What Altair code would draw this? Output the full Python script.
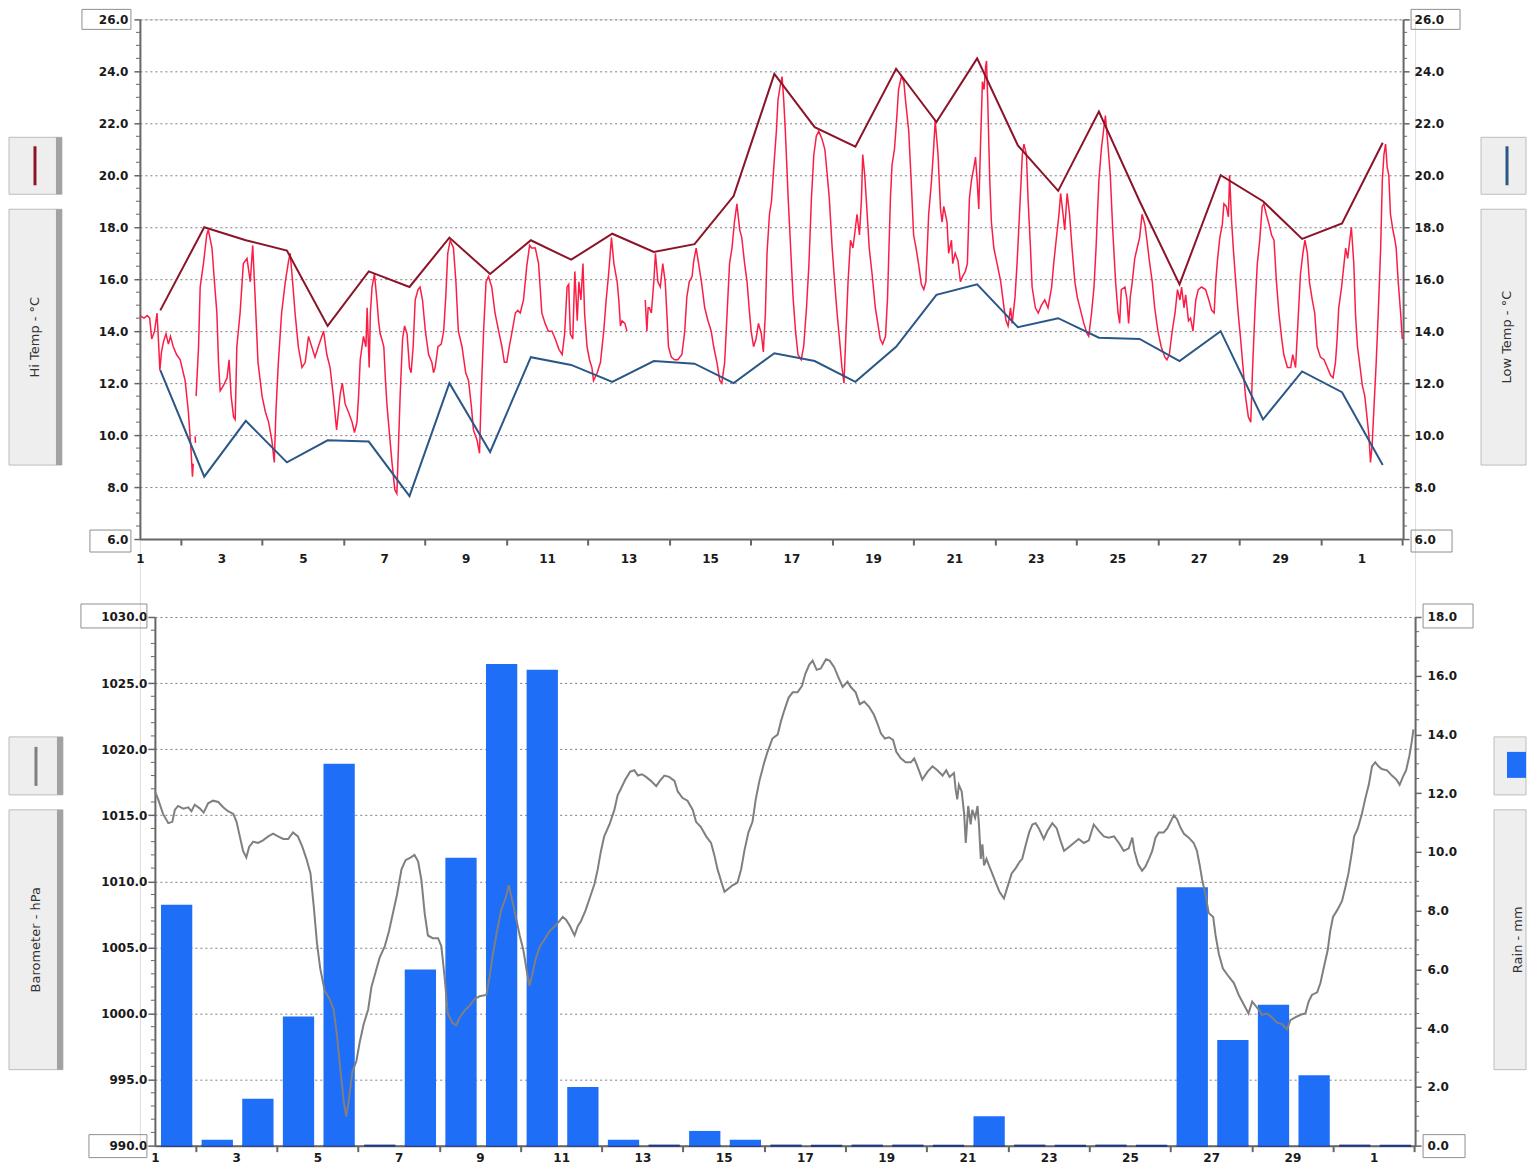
import altair as alt
import pandas as pd

# ---------------- data (t = days since the 1st of the month, 00:00) ----------------
T_DOMAIN = [0, 31.02]

# daily extremes, plotted at the time of day they were logged
hl_t = [0.5, 1.58, 2.6, 3.61, 4.61, 5.62, 6.62, 7.6, 8.6, 9.6, 10.59, 11.6, 12.62, 13.62, 14.58,
        15.58, 16.57, 17.57, 18.57, 19.56, 20.56, 21.56, 22.55, 23.55, 24.55, 25.53, 26.54,
        27.58, 28.54, 29.52, 30.52]
hi_temp = [14.8, 18.0, 17.5, 17.1, 14.2, 16.3, 15.7, 17.6, 16.2, 17.5, 16.75, 17.75, 17.05, 17.35, 19.2,
           23.9, 21.85, 21.1, 24.1, 22.05, 24.5, 21.15, 19.4, 22.45, 19.0, 15.8, 20.0, 19.0, 17.55, 18.15, 21.25]
low_temp = [12.5, 8.4, 10.55, 8.95, 9.8, 9.75, 7.65, 12.0, 9.35, 13.0, 12.7, 12.05, 12.85, 12.75, 12.0,
            13.15, 12.85, 12.05, 13.4, 15.4, 15.8, 14.15, 14.5, 13.75, 13.7, 12.85, 14.0, 10.6, 12.45, 11.65, 8.85]

# logged temperature trace (t, °C), split where the logger has gaps
temp_seg_a = [(0.00, 14.6), (0.10, 14.5), (0.18, 14.6), (0.24, 14.5), (0.29, 13.7), (0.36, 14.0), (0.42, 14.7),
              (0.46, 13.5), (0.49, 12.5), (0.53, 13.2), (0.58, 13.6), (0.64, 13.9), (0.70, 13.5), (0.75, 13.8),
              (0.82, 13.4), (0.90, 13.1), (0.99, 12.9), (1.11, 12.1), (1.19, 10.9), (1.26, 9.3), (1.29, 8.4),
              (1.31, 8.9)]
temp_seg_b = [(1.355, 9.95), (1.365, 9.7)]
temp_seg_c = [(1.38, 11.5), (1.44, 13.4), (1.48, 15.7), (1.56, 16.6), (1.64, 17.7), (1.68, 17.9), (1.77, 17.2),
              (1.83, 15.9), (1.89, 14.7), (1.93, 12.8), (1.97, 11.7), (2.05, 11.9), (2.14, 12.2), (2.19, 12.9),
              (2.24, 11.5), (2.30, 10.7), (2.34, 10.6), (2.38, 13.4), (2.46, 14.7), (2.54, 16.6), (2.63, 16.8),
              (2.71, 15.9), (2.77, 17.3), (2.83, 15.3), (2.90, 12.8), (3.00, 11.5), (3.08, 10.9), (3.16, 10.5),
              (3.24, 9.8), (3.30, 8.95), (3.34, 10.9), (3.40, 12.8), (3.48, 14.7), (3.57, 15.9), (3.65, 16.7),
              (3.69, 17.0), (3.75, 15.9), (3.81, 14.7), (3.89, 13.4), (3.98, 12.6), (4.06, 12.8), (4.14, 13.8),
              (4.22, 13.4), (4.30, 13.0), (4.38, 13.4), (4.51, 14.0), (4.59, 13.1), (4.67, 12.6), (4.75, 11.5),
              (4.83, 10.2), (4.92, 11.6), (4.97, 12.0), (5.04, 11.2), (5.13, 10.85), (5.21, 10.5), (5.27, 10.1),
              (5.33, 10.5), (5.37, 11.5), (5.41, 12.9), (5.49, 13.8), (5.55, 13.4), (5.58, 14.9), (5.63, 12.6),
              (5.66, 14.7), (5.70, 15.7), (5.76, 16.2), (5.82, 15.2), (5.86, 14.4), (5.90, 13.9), (5.94, 13.7),
              (5.99, 13.4), (6.03, 12.1), (6.07, 11.1), (6.12, 10.2), (6.19, 8.95), (6.26, 7.9), (6.31, 7.75),
              (6.35, 9.6), (6.39, 11.5), (6.45, 13.7), (6.50, 14.2), (6.56, 13.9), (6.62, 12.6), (6.66, 12.4),
              (6.71, 13.4), (6.76, 15.2), (6.83, 15.6), (6.88, 15.7), (6.94, 15.2), (7.01, 14.0), (7.09, 13.1),
              (7.17, 12.8), (7.21, 12.4), (7.25, 12.6), (7.32, 13.4), (7.40, 13.5), (7.46, 14.0), (7.51, 15.3),
              (7.56, 17.0), (7.62, 17.5), (7.70, 17.2), (7.76, 15.9), (7.82, 14.0), (7.91, 13.4), (8.00, 12.4),
              (8.07, 12.1), (8.14, 11.1), (8.19, 10.2), (8.28, 9.8), (8.34, 9.3), (8.38, 11.5), (8.44, 14.0),
              (8.50, 15.9), (8.56, 16.1), (8.64, 15.7), (8.72, 14.7), (8.81, 14.0), (8.89, 13.4), (8.95, 12.8),
              (9.01, 12.8), (9.07, 13.4), (9.13, 13.9), (9.22, 14.7), (9.28, 14.8), (9.34, 14.7), (9.42, 15.2),
              (9.50, 16.5), (9.57, 17.3), (9.62, 17.2), (9.71, 17.2), (9.79, 16.6), (9.87, 14.7), (9.95, 14.3),
              (10.03, 14.0), (10.12, 14.0), (10.20, 13.7), (10.29, 13.3), (10.37, 13.1), (10.43, 13.9),
              (10.49, 15.7), (10.53, 15.8), (10.57, 13.9), (10.63, 13.7), (10.68, 16.3), (10.74, 14.4),
              (10.78, 15.9), (10.83, 15.2), (10.88, 16.6), (10.92, 14.7), (10.98, 13.4), (11.04, 12.9),
              (11.10, 12.6), (11.14, 12.1), (11.23, 12.4), (11.31, 12.8), (11.39, 14.0), (11.45, 15.2),
              (11.51, 16.2), (11.58, 17.6), (11.64, 16.6), (11.72, 15.9), (11.76, 15.2), (11.80, 14.2),
              (11.84, 14.4), (11.91, 14.3), (11.96, 14.0)]
temp_seg_d = [(12.41, 15.2), (12.45, 14.0), (12.48, 14.9), (12.51, 14.9), (12.56, 14.7), (12.62, 15.9),
              (12.66, 17.0), (12.72, 15.9), (12.78, 15.7), (12.84, 16.6), (12.90, 15.9), (12.94, 14.7),
              (12.98, 13.4), (13.05, 13.0), (13.13, 12.9), (13.21, 12.9), (13.31, 13.1), (13.38, 14.0),
              (13.43, 15.3), (13.49, 15.9), (13.56, 16.1), (13.60, 16.7), (13.66, 17.2), (13.72, 16.6),
              (13.79, 15.9), (13.87, 14.9), (13.95, 14.4), (14.03, 14.0), (14.09, 13.4), (14.17, 12.8),
              (14.24, 12.1), (14.29, 12.0), (14.36, 12.8), (14.42, 14.7), (14.48, 16.6), (14.54, 17.2),
              (14.60, 18.2), (14.66, 18.9), (14.73, 17.9), (14.78, 17.6), (14.85, 16.6), (14.91, 15.9),
              (14.96, 14.9), (15.01, 14.0), (15.07, 13.4), (15.13, 13.7), (15.19, 14.3), (15.26, 13.9),
              (15.31, 13.2), (15.36, 14.7), (15.40, 17.0), (15.46, 18.5), (15.51, 19.0), (15.57, 20.4),
              (15.63, 21.7), (15.67, 22.9), (15.73, 23.5), (15.77, 23.8), (15.81, 22.9), (15.85, 21.7),
              (15.92, 19.1), (15.98, 17.2), (16.04, 15.3), (16.10, 14.0), (16.16, 13.1), (16.24, 12.9),
              (16.30, 13.4), (16.37, 14.9), (16.43, 16.6), (16.49, 19.1), (16.55, 20.8), (16.61, 21.5),
              (16.67, 21.7), (16.75, 21.4), (16.82, 21.0), (16.88, 20.0), (16.93, 19.1), (17.00, 17.2),
              (17.06, 15.9), (17.12, 14.7), (17.18, 13.7), (17.24, 12.6), (17.29, 12.0), (17.34, 14.0),
              (17.39, 15.9), (17.45, 17.5), (17.51, 17.2), (17.55, 17.7), (17.61, 18.5), (17.67, 17.7),
              (17.72, 19.1), (17.75, 20.8), (17.80, 20.0), (17.86, 18.5), (17.91, 17.2), (17.98, 16.2),
              (18.06, 14.9), (18.13, 14.2), (18.18, 13.7), (18.24, 13.5), (18.31, 13.8), (18.36, 15.3),
              (18.43, 19.1), (18.47, 20.4), (18.53, 21.0), (18.59, 22.3), (18.63, 23.3), (18.70, 23.8),
              (18.76, 23.6), (18.80, 22.9), (18.88, 21.7), (18.94, 19.8), (19.00, 17.7), (19.06, 17.2),
              (19.12, 16.6), (19.19, 15.8), (19.25, 15.6), (19.30, 15.9), (19.37, 18.5), (19.44, 19.8),
              (19.49, 21.0), (19.53, 22.1), (19.60, 20.8), (19.66, 18.7), (19.70, 18.2), (19.74, 18.8),
              (19.78, 18.5), (19.82, 18.2), (19.86, 17.0), (19.93, 17.5), (19.96, 16.6), (20.02, 17.0),
              (20.09, 16.7), (20.15, 15.9), (20.20, 16.1), (20.27, 16.3), (20.32, 16.6), (20.37, 19.1),
              (20.42, 19.8), (20.48, 20.3), (20.52, 20.7), (20.56, 19.8), (20.60, 18.7), (20.64, 21.0),
              (20.69, 23.6), (20.73, 23.3), (20.77, 24.2), (20.79, 24.4), (20.82, 22.9), (20.87, 19.8),
              (20.91, 18.2), (20.97, 17.2), (21.05, 16.6), (21.14, 15.9), (21.22, 14.9), (21.27, 14.4),
              (21.32, 14.2), (21.38, 14.9), (21.42, 14.3), (21.49, 15.3), (21.54, 16.6), (21.60, 18.5),
              (21.67, 20.8), (21.71, 21.2), (21.77, 20.8), (21.81, 19.1), (21.87, 17.2), (21.91, 15.7),
              (21.99, 14.9), (22.06, 14.7), (22.14, 15.0), (22.22, 15.2), (22.30, 14.9), (22.39, 15.7),
              (22.44, 16.6), (22.50, 17.5), (22.57, 18.5), (22.61, 19.3), (22.67, 18.5), (22.71, 17.9),
              (22.77, 19.3), (22.83, 18.5), (22.89, 17.2), (22.96, 15.9), (23.02, 15.3), (23.10, 14.8),
              (23.18, 14.3), (23.26, 13.9), (23.30, 13.8), (23.37, 14.7), (23.43, 15.7), (23.48, 17.2),
              (23.55, 19.8), (23.61, 21.0), (23.67, 21.8), (23.71, 22.3), (23.78, 21.0), (23.83, 20.0),
              (23.89, 17.9), (23.96, 15.9), (24.02, 14.7), (24.06, 14.3), (24.10, 15.6), (24.19, 15.7),
              (24.24, 15.2), (24.28, 14.3), (24.32, 15.3), (24.37, 15.9), (24.43, 16.8), (24.49, 17.2),
              (24.55, 17.6), (24.61, 18.5), (24.68, 18.1), (24.73, 17.5), (24.79, 16.7), (24.86, 15.9),
              (24.92, 14.9), (25.00, 14.0), (25.08, 13.4), (25.17, 13.0), (25.22, 12.9), (25.28, 13.1),
              (25.35, 14.0), (25.42, 14.7), (25.48, 15.6), (25.54, 15.2), (25.58, 15.7), (25.64, 14.9),
              (25.68, 15.4), (25.75, 14.4), (25.80, 14.5), (25.86, 14.0), (25.93, 15.2), (25.99, 15.6),
              (26.07, 15.7), (26.17, 15.6), (26.25, 15.2), (26.32, 14.8), (26.38, 14.7), (26.42, 15.9),
              (26.46, 16.7), (26.52, 17.6), (26.58, 18.1), (26.62, 18.9), (26.68, 18.8), (26.73, 18.4),
              (26.76, 20.0), (26.81, 18.2), (26.85, 17.2), (26.91, 15.9), (26.97, 14.7), (27.03, 13.7),
              (27.09, 12.6), (27.15, 11.5), (27.22, 10.7), (27.28, 10.5), (27.32, 12.4), (27.38, 14.7),
              (27.44, 16.6), (27.50, 17.5), (27.56, 18.8), (27.60, 18.9), (27.66, 18.5), (27.73, 18.1),
              (27.79, 17.7), (27.85, 17.5), (27.91, 15.9), (27.97, 14.7), (28.04, 13.7), (28.09, 13.1),
              (28.18, 12.6), (28.26, 12.6), (28.31, 13.1), (28.38, 12.6), (28.45, 14.7), (28.50, 16.2),
              (28.56, 17.0), (28.61, 17.5), (28.67, 17.0), (28.72, 15.9), (28.79, 15.2), (28.85, 14.7),
              (28.91, 13.4), (28.99, 13.0), (29.08, 12.9), (29.16, 12.6), (29.24, 12.3), (29.30, 12.2),
              (29.36, 12.8), (29.40, 13.7), (29.44, 14.9), (29.51, 15.7), (29.57, 16.6), (29.61, 17.2),
              (29.66, 16.8), (29.71, 17.5), (29.75, 18.0), (29.81, 16.6), (29.85, 14.7), (29.90, 13.4),
              (29.95, 12.8), (30.02, 11.9), (30.08, 11.5), (30.14, 10.6), (30.18, 10.0), (30.22, 8.95),
              (30.26, 9.6), (30.30, 10.9), (30.36, 12.8), (30.41, 14.7), (30.47, 17.2), (30.51, 19.8),
              (30.55, 20.8), (30.59, 21.2), (30.63, 20.3), (30.67, 20.0), (30.71, 18.5), (30.77, 17.9),
              (30.82, 17.5), (30.85, 17.2), (30.90, 15.9), (30.96, 14.7), (31.00, 13.7)]

# barometer trace (t, hPa)
baro = [(0.00, 1016.8), (0.08, 1016.2), (0.20, 1015.1), (0.33, 1014.4), (0.43, 1014.5), (0.49, 1015.4),
        (0.57, 1015.7), (0.70, 1015.5), (0.82, 1015.6), (0.90, 1015.3), (0.98, 1015.8), (1.11, 1015.5),
        (1.20, 1015.2), (1.31, 1015.9), (1.43, 1016.1), (1.56, 1016.0), (1.68, 1015.6), (1.80, 1015.3),
        (1.93, 1015.1), (2.01, 1014.5), (2.09, 1013.4), (2.17, 1012.3), (2.25, 1011.8), (2.32, 1012.6),
        (2.42, 1013.0), (2.54, 1012.9), (2.66, 1013.1), (2.79, 1013.4), (2.91, 1013.6), (3.03, 1013.4),
        (3.16, 1013.2), (3.28, 1013.2), (3.40, 1013.7), (3.52, 1013.4), (3.63, 1012.6), (3.73, 1011.7),
        (3.83, 1010.6), (3.91, 1008.1), (3.99, 1005.3), (4.07, 1003.4), (4.18, 1001.7), (4.30, 1001.1),
        (4.40, 1000.3), (4.48, 998.4), (4.57, 995.6), (4.65, 993.3), (4.71, 992.2), (4.78, 993.6),
        (4.86, 995.6), (4.96, 996.4), (5.04, 997.8), (5.14, 999.2), (5.25, 1000.3), (5.33, 1002.0),
        (5.43, 1003.1), (5.53, 1004.2), (5.66, 1005.1), (5.76, 1006.2), (5.86, 1007.6), (5.96, 1009.0),
        (6.07, 1010.9), (6.17, 1011.6), (6.29, 1011.8), (6.39, 1012.0), (6.48, 1011.5), (6.56, 1010.1),
        (6.64, 1007.6), (6.72, 1005.9), (6.84, 1005.7), (6.97, 1005.7), (7.05, 1005.1), (7.13, 1002.8),
        (7.21, 1000.0), (7.32, 999.3), (7.42, 999.1), (7.50, 999.7), (7.62, 1000.2), (7.75, 1000.6),
        (7.87, 1001.1), (7.99, 1001.3), (8.16, 1001.4), (8.24, 1002.8), (8.32, 1004.5), (8.42, 1006.2),
        (8.52, 1007.8), (8.63, 1008.7), (8.71, 1009.7), (8.85, 1007.8), (8.98, 1005.9), (9.07, 1004.8),
        (9.16, 1003.1), (9.22, 1002.1), (9.30, 1003.1), (9.38, 1004.2), (9.48, 1005.1), (9.59, 1005.6),
        (9.71, 1006.2), (9.84, 1006.6), (9.96, 1007.0), (10.04, 1007.3), (10.12, 1007.1), (10.22, 1006.6),
        (10.33, 1005.9), (10.41, 1006.6), (10.49, 1007.0), (10.60, 1007.8), (10.70, 1008.7), (10.82, 1009.8),
        (10.90, 1010.9), (10.98, 1012.3), (11.06, 1013.4), (11.19, 1014.3), (11.31, 1015.4), (11.39, 1016.5),
        (11.47, 1017.0), (11.58, 1017.7), (11.70, 1018.3), (11.80, 1018.4), (11.89, 1018.0), (11.99, 1018.1),
        (12.09, 1017.9), (12.21, 1017.6), (12.34, 1017.2), (12.43, 1017.6), (12.54, 1018.0), (12.66, 1017.9),
        (12.79, 1017.6), (12.87, 1016.8), (12.99, 1016.3), (13.11, 1016.1), (13.24, 1015.4), (13.32, 1014.5),
        (13.44, 1014.1), (13.57, 1013.4), (13.69, 1012.9), (13.77, 1012.0), (13.85, 1010.9), (13.93, 1010.1),
        (14.02, 1009.2), (14.10, 1009.4), (14.22, 1009.7), (14.34, 1009.9), (14.43, 1010.9), (14.51, 1012.3),
        (14.61, 1013.7), (14.71, 1014.5), (14.79, 1016.2), (14.88, 1017.6), (15.00, 1019.0), (15.08, 1019.8),
        (15.20, 1020.8), (15.33, 1021.1), (15.41, 1022.1), (15.49, 1022.9), (15.60, 1023.9), (15.70, 1024.3),
        (15.82, 1024.3), (15.93, 1024.8), (16.01, 1025.7), (16.11, 1026.4), (16.19, 1026.7), (16.29, 1026.0),
        (16.39, 1026.1), (16.52, 1026.8), (16.61, 1026.7), (16.72, 1026.2), (16.83, 1025.4), (16.93, 1024.7),
        (17.05, 1025.1), (17.13, 1024.7), (17.25, 1024.3), (17.35, 1023.4), (17.46, 1023.6), (17.58, 1023.2),
        (17.70, 1022.6), (17.79, 1021.9), (17.87, 1021.2), (17.97, 1020.8), (18.07, 1020.9), (18.17, 1020.7),
        (18.25, 1019.8), (18.36, 1019.3), (18.48, 1019.0), (18.61, 1019.0), (18.69, 1019.3), (18.77, 1018.7),
        (18.89, 1017.7), (19.02, 1018.3), (19.14, 1018.7), (19.26, 1018.4), (19.39, 1018.0), (19.48, 1018.4),
        (19.56, 1017.9), (19.67, 1018.2), (19.71, 1017.0), (19.75, 1016.2), (19.79, 1017.3), (19.86, 1016.8),
        (19.92, 1015.1), (19.96, 1012.9), (20.02, 1015.7), (20.08, 1014.3), (20.12, 1015.4), (20.19, 1014.8),
        (20.25, 1015.7), (20.29, 1014.0), (20.33, 1011.7), (20.37, 1012.8), (20.41, 1011.2), (20.47, 1011.7),
        (20.53, 1011.2), (20.61, 1010.6), (20.71, 1009.8), (20.79, 1009.2), (20.90, 1008.7), (20.98, 1009.5),
        (21.09, 1010.6), (21.19, 1011.0), (21.29, 1011.5), (21.35, 1011.7), (21.44, 1012.8), (21.52, 1013.7),
        (21.60, 1014.3), (21.68, 1014.4), (21.76, 1014.0), (21.88, 1013.2), (21.97, 1013.8), (22.09, 1014.4),
        (22.20, 1014.0), (22.29, 1013.1), (22.38, 1012.3), (22.50, 1012.6), (22.62, 1012.9), (22.74, 1013.2),
        (22.87, 1012.9), (22.99, 1013.1), (23.11, 1014.3), (23.24, 1013.8), (23.36, 1013.4), (23.48, 1013.3),
        (23.61, 1013.4), (23.73, 1012.9), (23.85, 1012.3), (23.97, 1012.5), (24.06, 1013.3), (24.11, 1012.3),
        (24.20, 1011.3), (24.30, 1010.8), (24.38, 1011.1), (24.47, 1011.7), (24.55, 1012.3), (24.63, 1013.3),
        (24.71, 1013.7), (24.83, 1013.7), (24.92, 1014.0), (25.00, 1014.5), (25.08, 1015.0), (25.16, 1014.7),
        (25.24, 1014.1), (25.33, 1013.6), (25.45, 1013.3), (25.57, 1012.9), (25.65, 1012.3), (25.72, 1011.2),
        (25.78, 1010.1), (25.86, 1009.0), (25.94, 1007.6), (26.05, 1007.3), (26.11, 1005.9), (26.19, 1004.5),
        (26.29, 1003.4), (26.43, 1002.8), (26.56, 1002.3), (26.68, 1001.4), (26.80, 1000.7), (26.92, 1000.0),
        (27.01, 1000.9), (27.09, 1000.6), (27.17, 1000.3), (27.25, 999.9), (27.38, 1000.0), (27.50, 999.7),
        (27.62, 999.3), (27.74, 999.2), (27.87, 998.8), (27.95, 999.5), (28.07, 999.7), (28.20, 999.9),
        (28.32, 1000.0), (28.40, 1000.9), (28.48, 1001.4), (28.61, 1001.6), (28.69, 1002.3), (28.79, 1003.7),
        (28.87, 1004.8), (28.93, 1006.2), (29.00, 1007.3), (29.10, 1007.8), (29.22, 1008.5), (29.30, 1009.5),
        (29.38, 1010.6), (29.47, 1012.3), (29.52, 1013.4), (29.61, 1014.0), (29.71, 1015.1), (29.79, 1016.2),
        (29.88, 1017.3), (29.96, 1018.7), (30.04, 1019.0), (30.12, 1018.7), (30.20, 1018.5), (30.33, 1018.4),
        (30.45, 1018.0), (30.56, 1017.7), (30.64, 1017.3), (30.72, 1017.9), (30.80, 1018.4), (30.88, 1019.5),
        (30.94, 1020.6), (30.98, 1021.5)]

# daily rain (mm), one value per day starting on the 1st
rain_mm = [8.2, 0.2, 1.6, 4.4, 13.0, 0.0, 6.0, 9.8, 16.4, 16.2, 2.0, 0.2, 0.0, 0.5, 0.2, 0.0, 0.0, 0.0,
           0.0, 0.0, 1.0, 0.0, 0.0, 0.0, 0.0, 8.8, 3.6, 4.8, 2.4, 0.0, 0.0]

temp_ticks = [6, 8, 10, 12, 14, 16, 18, 20, 22, 24, 26]
baro_ticks = [990, 995, 1000, 1005, 1010, 1015, 1020, 1025, 1030]
rain_ticks = [0, 2, 4, 6, 8, 10, 12, 14, 16, 18]
day_ticks = list(range(32))

# ---------------- tables ----------------
rows = []
for sid, seg in enumerate([temp_seg_a, temp_seg_b, temp_seg_c, temp_seg_d]):
    rows += [{"t": t, "v": v, "seg": sid} for t, v in seg]
temp_df = pd.DataFrame(rows)
hl_df = pd.DataFrame({"t": hl_t, "hi": hi_temp, "lo": low_temp})
baro_df = pd.DataFrame(baro, columns=["t", "hpa"])
rain_df = pd.DataFrame({"day": list(range(len(rain_mm))), "mm": rain_mm})
minor_temp = pd.DataFrame({"m": [6 + 0.5 * i for i in range(41) if i % 4]})
minor_baro = pd.DataFrame({"m": [990 + i for i in range(41) if i % 5]})
minor_rain = pd.DataFrame({"m": [0.5 * i for i in range(37) if i % 4]})
dummy = pd.DataFrame({"k": [0]})

# ---------------- styling ----------------
FONT = "DejaVu Sans"
INK = "#1a1a1a"
AXC = "#666666"
GRIDC = "#7c7c7c"
RED = "#fa1e46"
HI = "#8c1428"
LO = "#2a5787"
BARO = "#7f7f7f"
BLUE = "#1e6ef8"

W, H = 1276, 1127          # whole drawing group
TOP_W, TOP_H = 1264, 520   # upper panel
BOT_TOP = 598              # upper edge of lower panel
EDGE = 1387                # right edge of the page area

top_x = alt.Scale(domain=T_DOMAIN, range=[0, TOP_W], nice=False, zero=False)
top_y = alt.Scale(domain=[6, 26], range=[TOP_H, 0], nice=False, zero=False)
bot_x = alt.Scale(domain=T_DOMAIN, range=[15, W], nice=False, zero=False)
baro_y = alt.Scale(domain=[990, 1030], range=[H, BOT_TOP], nice=False, zero=False)
rain_y = alt.Scale(domain=[0, 18], range=[H, BOT_TOP], nice=False, zero=False)


def x_axis(offset, pad):
    return alt.Axis(
        orient="bottom", offset=offset, values=day_ticks,
        labelExpr="datum.value == 30 ? '1' : (datum.value % 2 == 0 ? '' + (datum.value + 1) : '')",
        tickOpacity={"condition": {"test": "datum.value % 2 == 1", "value": 1}, "value": 0},
        tickSize=6, tickWidth=2, tickColor=AXC, domainColor=AXC, domainWidth=2,
        labelFont=FONT, labelFontWeight="bold", labelFontSize=12, labelColor=INK,
        labelPadding=pad, labelFlush=False, labelOverlap=False, grid=False, title=None)


def y_axis(orient, values, offset=0, grid=False, tick=6, pad=5, size=12):
    return alt.Axis(
        orient=orient, offset=offset, values=values, format=".1f",
        grid=grid, gridColor=GRIDC, gridDash=[2, 3], gridWidth=1, gridOpacity=1,
        tickSize=tick, tickWidth=1.5, tickColor=AXC, domainColor=AXC, domainWidth=2,
        labelFont=FONT, labelFontWeight="bold", labelFontSize=size, labelColor=INK,
        labelPadding=pad, labelOverlap=False, title=None)


# one axis object per shared scale, repeated on every layer that uses the scale
AX_TOP_X = x_axis(TOP_H - H, 8)
AX_BOT_X = x_axis(0, 1)
AX_HI = y_axis("left", temp_ticks, grid=True, tick=6, pad=6)
AX_LO = y_axis("right", temp_ticks, offset=TOP_W - W, tick=6, pad=5)
AX_BARO = y_axis("left", baro_ticks, offset=-15, grid=True, tick=7, pad=1)
AX_RAIN = y_axis("right", rain_ticks, tick=6, pad=6)

# ---------------- upper panel: temperatures ----------------
trace = alt.Chart(temp_df).mark_line(color=RED, strokeWidth=1.5).encode(
    x=alt.X("t:Q", scale=top_x, axis=AX_TOP_X),
    y=alt.Y("v:Q", scale=top_y, axis=AX_HI),
    detail="seg:N")
hi_line = alt.Chart(hl_df).mark_line(color=HI, strokeWidth=2).encode(
    x=alt.X("t:Q", scale=top_x, axis=AX_TOP_X), y=alt.Y("hi:Q", scale=top_y, axis=AX_HI))
mt_left = alt.Chart(minor_temp).mark_rule(color=AXC, strokeWidth=1).encode(
    x=alt.value(-4), x2=alt.value(0), y=alt.Y("m:Q", scale=top_y, axis=AX_HI))
mt_right = alt.Chart(minor_temp).mark_rule(color=AXC, strokeWidth=1).encode(
    x=alt.value(TOP_W), x2=alt.value(TOP_W + 4), y=alt.Y("m:Q", scale=top_y, axis=AX_HI))
upper_left = alt.layer(trace, hi_line, mt_left, mt_right)
lo_line = alt.Chart(hl_df).mark_line(color=LO, strokeWidth=2).encode(
    x=alt.X("t:Q", scale=top_x, axis=AX_TOP_X),
    y=alt.Y("lo:Q", scale=top_y, axis=AX_LO))
upper = alt.layer(upper_left, lo_line).resolve_scale(y="independent")

# ---------------- lower panel: rain + barometer ----------------
rain_base = alt.Chart(rain_df).transform_calculate(x0="datum.day + 0.15", x1="datum.day + 0.92", z="0")
rain_zero = rain_base.mark_rule(color="#1b3585", strokeWidth=2).encode(
    x=alt.X("x0:Q", scale=bot_x, axis=AX_BOT_X), x2="x1:Q",
    y=alt.Y("z:Q", scale=rain_y, axis=AX_RAIN))
rain_bars = rain_base.mark_rect(color=BLUE).encode(
    x=alt.X("x0:Q", scale=bot_x, axis=AX_BOT_X), x2="x1:Q",
    y=alt.Y("mm:Q", scale=rain_y, axis=AX_RAIN), y2="z:Q")
mr = alt.Chart(minor_rain).mark_rule(color=AXC, strokeWidth=1).encode(
    x=alt.value(W), x2=alt.value(W + 4), y=alt.Y("m:Q", scale=rain_y, axis=AX_RAIN))
rain_layer = alt.layer(rain_zero, rain_bars, mr)
baro_line = alt.Chart(baro_df).mark_line(color=BARO, strokeWidth=2).encode(
    x=alt.X("t:Q", scale=bot_x, axis=AX_BOT_X),
    y=alt.Y("hpa:Q", scale=baro_y, axis=AX_BARO))
mb = alt.Chart(minor_baro).mark_rule(color=AXC, strokeWidth=1).encode(
    x=alt.value(11), x2=alt.value(15), y=alt.Y("m:Q", scale=baro_y, axis=AX_BARO))
baro_layer = alt.layer(baro_line, mb)
lower = alt.layer(rain_layer, baro_layer).resolve_scale(y="independent")


# ---------------- frame decorations (label boxes, legend buttons) ----------------
def rect(x0, x1, y0, y1, fill, stroke=None, op=1.0):
    kw = dict(fill=fill, fillOpacity=op)
    if stroke:
        kw.update(stroke=stroke, strokeWidth=1)
    return alt.Chart(dummy).mark_rect(**kw).encode(
        x=alt.value(x0), x2=alt.value(x1), y=alt.value(y0), y2=alt.value(y1))


def button(x0, x1, y0, y1, strip=True):
    parts = [rect(x0, x1, y0, y1, "#eeeeee", "#bdbdbd")]
    if strip:
        parts.append(rect(x1 - 6, x1, y0, y1, "#a2a2a2"))
    return parts


def vtext(txt, x, y):
    return alt.Chart(dummy).mark_text(text=txt, angle=270, font=FONT, fontSize=13, color="#333333",
                                      align="center", baseline="middle").encode(
        x=alt.value(x), y=alt.value(y))


def swatch_line(x, y0, y1, color):
    return alt.Chart(dummy).mark_rule(color=color, strokeWidth=3).encode(
        x=alt.value(x), y=alt.value(y0), y2=alt.value(y1))


decor = []
for (x0, x1, y0, y1) in [(-58, -9, -10, 10), (-50, -9, 511, 533), (1272, 1321, -10, 10),
                         (1272, 1313, 511, 533), (-59, 7, 585, 609), (-51, 7, 1116, 1139),
                         (1284, 1334, 585, 609), (1284, 1326, 1116, 1139)]:
    decor.append(rect(x0, x1, y0, y1, "#ffffff", "#8f8f8f", op=0.0))
decor += button(-131, -78, 118, 175) + button(-131, -78, 190, 446)
decor += button(1342, EDGE, 118, 175, strip=False) + button(1342, EDGE, 190, 446, strip=False)
decor += button(-131, -77, 718, 776) + button(-131, -77, 791, 1051)
decor += button(1355, EDGE, 718, 776, strip=False) + button(1355, EDGE, 791, 1051, strip=False)
decor += [swatch_line(-105, 127, 166, HI), swatch_line(1368, 127, 166, LO),
          swatch_line(-104, 728, 767, BARO), rect(1368, EDGE, 733, 759, BLUE)]
decor += [vtext("Hi Temp - °C", -105, 318), vtext("Low Temp - °C", 1368, 318),
          vtext("Barometer - hPa", -104, 921), vtext("Rain - mm", 1379, 921)]

chart = alt.layer(*decor, upper, lower).resolve_scale(
    x="independent", y="independent"
).properties(
    width=W, height=H, padding={"left": 0, "top": 0, "right": 0, "bottom": 0}
).configure_view(strokeWidth=0).configure(background="#ffffff")

chart.save("out.html", embed_options={"renderer": "svg", "actions": False})
